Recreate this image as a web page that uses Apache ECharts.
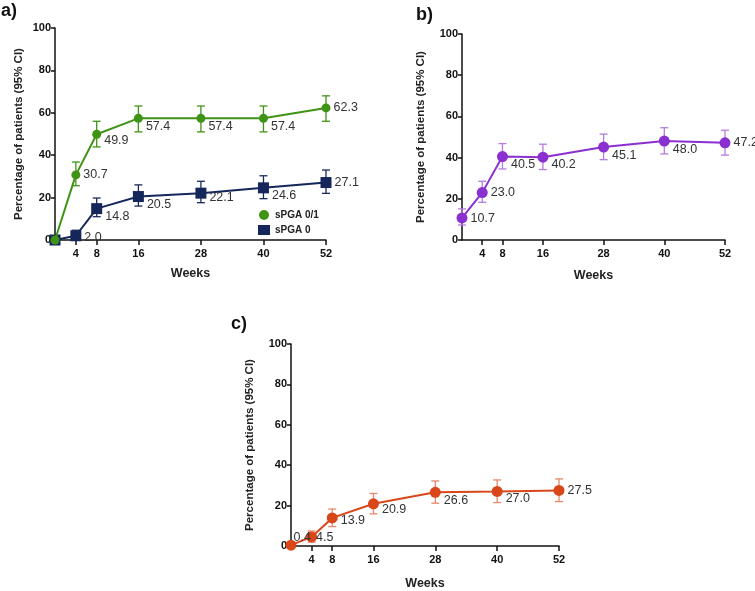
<!DOCTYPE html>
<html><head><meta charset="utf-8">
<script src="https://cdn.jsdelivr.net/npm/echarts@6/dist/echarts.min.js"></script>
<style>html,body{margin:0;padding:0;background:#fff}#c{width:755px;height:591px}</style>
</head><body><div id="c"></div>
<script>
// ---- data ----
const weeks = [0, 4, 8, 16, 28, 40, 52];
const xTicks = [4, 8, 16, 28, 40, 52];
const yTicks = [0, 20, 40, 60, 80, 100];

const aGreenVal = [0, 30.7, 49.9, 57.4, 57.4, 57.4, 62.3];
const aGreenLo  = [0, 25.6, 43.9, 51.0, 51.0, 51.0, 56.0];
const aGreenHi  = [0, 36.8, 56.0, 63.2, 63.2, 63.2, 68.0];
const aGreenLbl = ['', '30.7', '49.9', '57.4', '57.4', '57.4', '62.3'];

const aNavyVal = [0, 2.0, 14.8, 20.5, 22.1, 24.6, 27.1];
const aNavyLo  = [0, 0.8, 11.0, 16.0, 17.6, 19.5, 22.0];
const aNavyHi  = [0, 4.6, 19.8, 26.0, 27.7, 30.3, 33.0];
const aNavyLbl = ['', '2.0', '14.8', '20.5', '22.1', '24.6', '27.1'];

const bVal = [10.7, 23.0, 40.5, 40.2, 45.1, 48.0, 47.2];
const bLo  = [7.3, 18.3, 34.5, 34.2, 39.0, 41.8, 41.2];
const bHi  = [15.1, 28.5, 46.8, 46.5, 51.4, 54.5, 53.3];

const cVal = [0.4, 4.5, 13.9, 20.9, 26.6, 27.0, 27.5];
const cLo  = [0.4, 1.9, 9.6, 15.9, 21.2, 21.5, 22.0];
const cHi  = [0.4, 7.4, 18.3, 26.0, 32.2, 32.7, 33.2];

const legendNames = ['sPGA 0/1', 'sPGA 0'];
const panelLetters = ['a)', 'b)', 'c)'];
const yTitle = 'Percentage of patients (95% CI)';
const xTitle = 'Weeks';

// ---- label offsets (style) ----
const aGreenOff = [[0,0],[0,0],[0,6],[0,8],[0,8],[0,8],[0,0]];
const aNavyOff  = [[0,0],[0,2],[0,8],[0,8],[0,4],[0,8],[0,0]];
const bOff      = [[0,1],[0,0],[0,8],[0,7],[0,8],[0,8],[0,0]];
const cOff      = [[-6,-8],[-4,1],[0,3],[0,6],[0,8],[0,7],[0,0]];

const chart = echarts.init(document.getElementById('c'));
const FONT = 'Liberation Sans, Arial, sans-serif';

const grids = [
  {left: 55, top: 28, width: 271, height: 212},
  {left: 462, top: 34, width: 263, height: 206},
  {left: 291, top: 344, width: 268, height: 208}
];
const yGaps = [30, 35, 35];
const xGaps = [27, 29, 31];

function xAxis(i) {
  return {
    type: 'value', gridIndex: i, min: 0, max: 52,
    name: xTitle, nameLocation: 'middle', nameGap: xGaps[i],
    nameTextStyle: {fontFamily: FONT, fontWeight: 'bold', fontSize: 12.5, color: '#222'},
    axisLine: {show: true, onZero: false, lineStyle: {color: '#111', width: 1.5}},
    axisTick: {show: true, length: 5, customValues: xTicks, lineStyle: {color: '#111', width: 1.5}},
    axisLabel: {customValues: xTicks, fontFamily: FONT, fontWeight: 'bold', fontSize: 11, color: '#111', margin: 8},
    splitLine: {show: false}
  };
}
function yAxis(i) {
  return {
    type: 'value', gridIndex: i, min: 0, max: 100, interval: 20,
    name: yTitle, nameLocation: 'middle', nameGap: yGaps[i],
    nameTextStyle: {fontFamily: FONT, fontWeight: 'bold', fontSize: 11.5, color: '#222'},
    axisLine: {show: true, lineStyle: {color: '#111', width: 1.5}},
    axisTick: {show: true, length: 4, lineStyle: {color: '#111', width: 1.5}},
    axisLabel: {fontFamily: FONT, fontWeight: 'bold', fontSize: 11, color: '#111', margin: 4},
    splitLine: {show: false}
  };
}

function errSeries(i, lo, hi, color, w) {
  return {
    type: 'custom', xAxisIndex: i, yAxisIndex: i, z: 1, silent: true,
    data: weeks.map((w, k) => [w, lo[k], hi[k]]),
    renderItem: function (params, api) {
      const x = api.value(0);
      const p1 = api.coord([x, api.value(1)]);
      const p2 = api.coord([x, api.value(2)]);
      if (Math.abs(p1[1] - p2[1]) < 0.5) return null;
      const cw = 4;
      const st = {stroke: color, lineWidth: w};
      return {type: 'group', children: [
        {type: 'line', shape: {x1: p1[0], y1: p1[1], x2: p2[0], y2: p2[1]}, style: st},
        {type: 'line', shape: {x1: p1[0]-cw, y1: p1[1], x2: p1[0]+cw, y2: p1[1]}, style: st},
        {type: 'line', shape: {x1: p2[0]-cw, y1: p2[1], x2: p2[0]+cw, y2: p2[1]}, style: st}
      ]};
    }
  };
}

function lineSeries(i, name, vals, lbls, offs, color, symbol, size, z) {
  return {
    type: 'line', name: name, xAxisIndex: i, yAxisIndex: i, z: z || 3,
    symbol: symbol, symbolSize: size, showAllSymbol: true,
    itemStyle: {color: color, opacity: 1},
    lineStyle: {color: color, width: 2},
    data: weeks.map((w, k) => ({
      value: [w, vals[k]],
      label: {show: lbls[k] !== '', formatter: lbls[k] || ' ', offset: offs[k]}
    })),
    label: {position: 'right', distance: 3, fontFamily: FONT, fontSize: 12.5, color: '#333'},
    animation: false
  };
}

const fmt = v => v.toFixed(1);

chart.setOption({
  animation: false,
  textStyle: {fontFamily: FONT},
  grid: grids.map(g => Object.assign({containLabel: false}, g)),
  xAxis: [xAxis(0), xAxis(1), xAxis(2)],
  yAxis: [yAxis(0), yAxis(1), yAxis(2)],
  legend: {
    left: 253, top: 205, orient: 'vertical', itemGap: 5, itemWidth: 12, itemHeight: 10,
    data: [{name: legendNames[0], icon: 'circle'}, {name: legendNames[1], icon: 'rect'}],
    textStyle: {fontFamily: FONT, fontWeight: 'bold', fontSize: 10, color: '#222'}
  },
  graphic: [
    {type: 'text', left: 1, top: 2, style: {text: panelLetters[0], font: 'bold 18px ' + FONT, fill: '#111'}},
    {type: 'text', left: 416, top: 6, style: {text: panelLetters[1], font: 'bold 18px ' + FONT, fill: '#111'}},
    {type: 'text', left: 231, top: 315, style: {text: panelLetters[2], font: 'bold 18px ' + FONT, fill: '#111'}}
  ],
  series: [
    errSeries(0, aGreenLo, aGreenHi, '#3f9416', 1.3),
    errSeries(0, aNavyLo, aNavyHi, '#1a2a5c', 1.3),
    lineSeries(0, legendNames[1], aNavyVal, aNavyLbl, aNavyOff, '#14265a', 'rect', 11, 3),
    lineSeries(0, legendNames[0], aGreenVal, aGreenLbl, aGreenOff, '#3f9416', 'circle', 9, 4),
    errSeries(1, bLo, bHi, '#b57be0', 1.3),
    lineSeries(1, 'b', bVal, bVal.map(fmt), bOff, '#8a2fd0', 'circle', 11),
    errSeries(2, cLo, cHi, '#e8876a', 1.3),
    lineSeries(2, 'c', cVal, cVal.map(fmt), cOff, '#d9461a', 'circle', 11)
  ]
});
</script></body></html>
